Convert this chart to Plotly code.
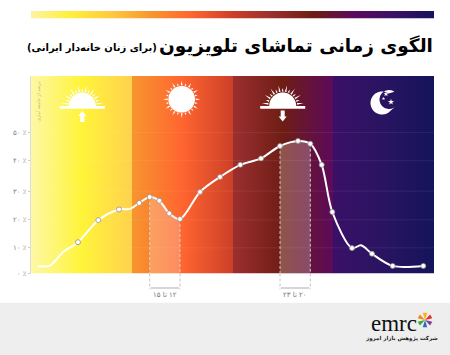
import numpy as np
import plotly.graph_objects as go

# ---- data ----
curve_pos = [6.7, 19, 32, 47, 67.3, 88, 99, 108.3, 118.7, 128.3, 138.3, 149, 169, 189, 209.3, 230, 249, 267, 279.3, 290.7, 301.3, 321, 330, 341, 361.7, 392.3]
curve_val = [2.6, 2.8, 7.6, 11.1, 18.9, 22.7, 22.9, 25, 27.1, 25.8, 21.3, 19.3, 28.9, 34.2, 38.5, 40.8, 45.2, 47, 46, 38.5, 21.8, 9, 10, 7, 2.7, 2.7]
marker_pos = [47, 67.3, 88, 108.3, 118.7, 128.3, 138.3, 149, 169, 189, 209.3, 230, 249, 267, 279.3, 290.7, 301.3, 321, 341, 361.7, 392.3]
marker_val = [11.1, 18.9, 22.7, 25, 27.1, 25.8, 21.3, 19.3, 28.9, 34.2, 38.5, 40.8, 45.2, 47, 46, 38.5, 21.8, 9, 7, 2.7, 2.7]
y_tick_pos = [0, 9.1, 19, 29.2, 40, 50]
y_tick_txt = ["۰ ٪", "۱۰ ٪", "۲۰ ٪", "۳۰ ٪", "۴۰ ٪", "۵۰ ٪"]
section_edges = [0, 101, 202, 302, 403]
section_colors = [
    ["#FDF8A6", "#FFF43A", "#FFD24E"],
    ["#F7952F", "#FF6530", "#CC3F28"],
    ["#9C2F30", "#6E1D14", "#5C0A5C"],
    ["#3A1066", "#2A1462", "#14145A"],
]
strip_colors = ["#FDF3A0", "#FFEF3A", "#FFC93F", "#F7952F", "#FF6530", "#CC3F28", "#99302E", "#6E1D14", "#5C0A5C", "#3A1066", "#14145A"]
bands = [(118.7, 149, "\u200f۱۲ تا ۱۵"), (249, 279.3, "\u200f۲۰ تا ۲۳")]
title = "الگوی زمانی تماشای تلویزیون"
subtitle = "(برای زنان خانه‌دار ایرانی)"
y_label = "درصد از جامعه آماری"
company = "شرکت پژوهش بازار امروز"

W, H = 450, 355
L, R, T, B = 31, 434, 76, 273.5
YMAX = 70
fig = go.Figure()
shapes = []

def scale(cols):
    return [[i / (len(cols) - 1), c] for i, c in enumerate(cols)]

def py(y):
    return (H - y) / H

for i, cols in enumerate(section_colors):
    a, b = section_edges[i], section_edges[i + 1]
    fig.add_trace(go.Scatter(x=[a, b, b, a, a], y=[0, 0, YMAX, YMAX, 0], mode="lines", line=dict(width=0),
                             fill="toself", fillgradient=dict(type="horizontal", colorscale=scale(cols)),
                             hoverinfo="skip", showlegend=False))

# faint grid
gx, gy = [], []
for v in y_tick_pos[1:]:
    gx += [0, 403, None]; gy += [v, v, None]
fig.add_trace(go.Scatter(x=gx, y=gy, mode="lines", line=dict(color="rgba(255,255,255,0.07)", width=1),
                         hoverinfo="skip", showlegend=False))

# highlighted bands under the curve
for a, b, lab in bands:
    xs = [p for p in curve_pos if a <= p <= b]
    ys = [v for p, v in zip(curve_pos, curve_val) if a <= p <= b]
    fig.add_trace(go.Scatter(x=xs, y=ys, mode="lines", line=dict(width=0, shape="spline", smoothing=1),
                             fill="tozeroy", fillcolor="rgba(255,255,255,0.24)", hoverinfo="skip", showlegend=False))
    for p in (a, b):
        top = curve_val[curve_pos.index(p)]
        fig.add_trace(go.Scatter(x=[p, p], y=[top, 0], mode="lines",
                                 line=dict(color="rgba(215,215,215,0.9)", width=1, dash="3px,2px"),
                                 hoverinfo="skip", showlegend=False))
        shapes.append(dict(type="line", xref="x", yref="paper", x0=p, x1=p, y0=py(B), y1=py(289.5), layer="above",
                           line=dict(color="#c4c4c4", width=1, dash="3px,2px")))
    shapes.append(dict(type="line", xref="x", yref="paper", x0=a + 1, x1=b - 1, y0=py(288), y1=py(288), layer="above",
                       line=dict(color="#c8c8c8", width=1.5)))
    fig.add_annotation(x=(a + b) / 2, y=py(295), text=lab, showarrow=False, xref="x", yref="paper", yanchor="middle",
                       font=dict(size=7, color="#777", family="DejaVu Sans"))

fig.add_trace(go.Scatter(x=curve_pos, y=curve_val, mode="lines", line=dict(color="#fff", width=2, shape="spline", smoothing=0.9),
                         hoverinfo="skip", showlegend=False))
fig.add_trace(go.Scatter(x=marker_pos, y=marker_val, mode="markers",
                         marker=dict(color="#fff", size=5, line=dict(color="rgba(140,140,140,0.75)", width=1)),
                         showlegend=False))

# top strip
fig.add_trace(go.Scatter(x=[0, 403, 403, 0, 0], y=[0, 0, 1, 1, 0], xaxis="x2", yaxis="y2", mode="lines", line=dict(width=0),
                         fill="toself", fillgradient=dict(type="horizontal", colorscale=scale(strip_colors)),
                         hoverinfo="skip", showlegend=False))
# invisible anchor trace for the page-wide axes used by the decoration
fig.add_trace(go.Scatter(x=[0], y=[0], xaxis="x3", yaxis="y3", mode="markers", marker=dict(opacity=0),
                         hoverinfo="skip", showlegend=False))

def poly(pts, color="#fff", layer="above"):
    d = "M" + "L".join(f"{x:.2f},{y:.2f}" for x, y in pts) + "Z"
    shapes.append(dict(type="path", path=d, xref="x3", yref="y3", fillcolor=color, line=dict(width=0), layer=layer))

def rect(x0, y0, x1, y1, color, layer="above"):
    shapes.append(dict(type="rect", x0=x0, x1=x1, y0=y0, y1=y1, xref="x3", yref="y3", fillcolor=color, line=dict(width=0), layer=layer))

def disc(cx, cy, r, a0=0, a1=360, n=60):
    t = np.radians(np.linspace(a0, a1, n))
    return [(cx + r * np.cos(v), cy - r * np.sin(v)) for v in t]

def rays(cx, cy, r0, long, short, a0, a1, n):
    for i, deg in enumerate(np.linspace(a0, a1, n)):
        t = np.radians(deg)
        w = np.radians(3.5)
        r1 = long if i % 2 == 0 else short
        poly([(cx + r0 * np.cos(t - w), cy - r0 * np.sin(t - w)),
              (cx + r1 * np.cos(t), cy - r1 * np.sin(t)),
              (cx + r0 * np.cos(t + w), cy - r0 * np.sin(t + w))])

def half_sun(cx):
    poly(disc(cx, 106, 13.5, 0, 180))
    rays(cx, 106, 14.5, 21, 18, 8, 172, 15)
    rect(cx - 22.5, 106, cx + 22.5, 108.8, "#fff")

half_sun(82.3)
poly([(82.3, 111), (86.3, 116), (84.3, 116), (84.3, 122), (80.3, 122), (80.3, 116), (78.3, 116)])
half_sun(282.7)
poly([(282.7, 121.5), (286.7, 116.5), (284.7, 116.5), (284.7, 110.5), (280.7, 110.5), (280.7, 116.5), (278.7, 116.5)])
poly(disc(181.7, 99.3, 13.3))
rays(181.7, 99.3, 14, 18.8, 16.5, 0, 345, 24)
# moon
outer = disc(382, 103, 11.5, 55, 305)
t = np.radians(np.linspace(305, 55, 40))
inner = [(389 + 9.5 * np.cos(v), 99.5 - 9.5 * np.sin(v)) for v in t]
poly(outer + inner)
def star(cx, cy, r):
    pts = []
    for k in range(10):
        a = np.radians(90 + 36 * k)
        rr = r if k % 2 == 0 else r * 0.38
        pts.append((cx + rr * np.cos(a), cy - rr * np.sin(a)))
    poly(pts)
star(386, 94, 2.8); star(391, 102, 3.2); star(383.5, 98.5, 1.8)

# footer
rect(0, 302.7, 450, 355, "#EEEEEE", layer="below")

# logo star
star_cols = ["#F5B417", "#EE2A24", "#7B3F98", "#2E6DB4", "#39A935", "#F58220"]
for i, c in enumerate(star_cols):
    a = np.radians(90 - i * 60)
    shapes.append(dict(type="path", xref="x3", yref="y3", layer="above", fillcolor=c, line=dict(width=0),
                       path=f"M425,320 L{425 + 7.5 * np.cos(a + .3):.2f},{320 - 7.5 * np.sin(a + .3):.2f} "
                            f"L{425 + 7.5 * np.cos(a - .3):.2f},{320 - 7.5 * np.sin(a - .3):.2f} Z"))

def note(x, y, text, size, color="#000", family="DejaVu Sans", anchor="center", bold=False, angle=0):
    if bold:
        text = f"<b>{text}</b>"
    fig.add_annotation(x=x, y=y, xref="x3", yref="y3", text=text, showarrow=False, xanchor=anchor, yanchor="middle",
                       textangle=angle, font=dict(size=size, color=color, family=family))

note(435, 46, title, 18.5, anchor="right", bold=True)
note(159, 47.5, subtitle, 10, anchor="right", bold=True)
note(37.5, 102, y_label, 4.5, color="#bdb77a", angle=-90)
note(394, 323, "emrc", 23, family="Liberation Serif", color="#111")
note(401, 338, company, 5.5, color="#222", bold=True)

fig.update_layout(
    width=W, height=H, margin=dict(l=0, r=0, t=0, b=0), paper_bgcolor="#fff", plot_bgcolor="rgba(0,0,0,0)",
    showlegend=False, shapes=shapes,
    xaxis=dict(domain=[L / W, R / W], range=[0, 403], visible=False, fixedrange=True, automargin=False),
    yaxis=dict(domain=[(H - B) / H, (H - T) / H], range=[0, YMAX], tickvals=y_tick_pos, ticktext=y_tick_txt,
               showgrid=False, zeroline=False, ticks="outside", ticklen=2, tickcolor="#ccc", tickwidth=1,
               showline=True, linecolor="#ddd", linewidth=1, anchor="x", automargin=False,
               tickfont=dict(size=7, color="#888", family="DejaVu Sans"), fixedrange=True),
    xaxis2=dict(domain=[L / W, R / W], range=[0, 403], visible=False, anchor="y2", fixedrange=True, automargin=False),
    yaxis2=dict(domain=[(H - 18.5) / H, (H - 11) / H], range=[0, 1], visible=False, anchor="x2", fixedrange=True, automargin=False),
    xaxis3=dict(domain=[0, 1], range=[0, W], visible=False, anchor="y3", fixedrange=True, automargin=False),
    yaxis3=dict(domain=[0, 1], range=[H, 0], visible=False, anchor="x3", fixedrange=True, automargin=False),
)
fig.write_html("out.html", config=dict(displayModeBar=False),
               post_script="document.body.style.margin='0';document.body.style.overflow='hidden';")
